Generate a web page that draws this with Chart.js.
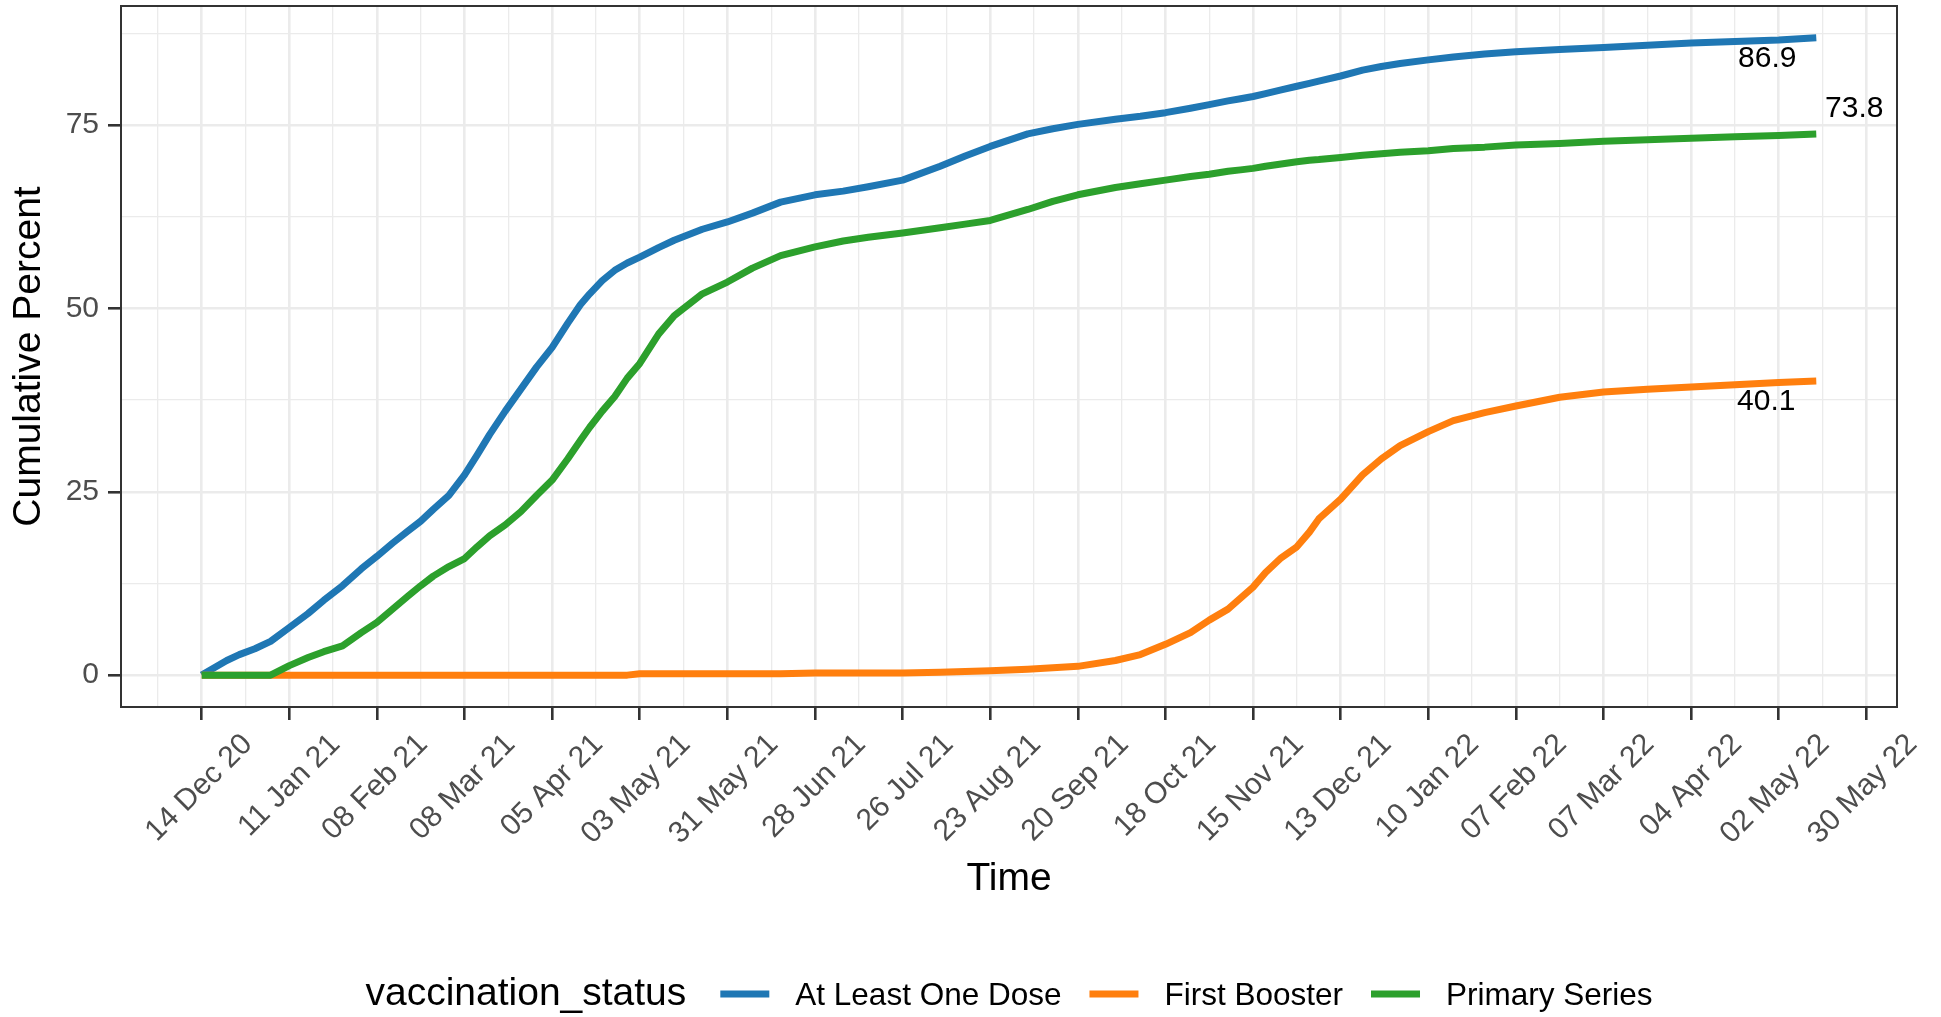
<!DOCTYPE html>
<html>
<head>
<meta charset="utf-8">
<title>Cumulative Percent</title>
<script src="https://cdn.jsdelivr.net/npm/chart.js@4.4.1/dist/chart.umd.min.js"></script>
<style>
  html, body { margin: 0; padding: 0; background: #fff; }
  #wrap { width: 1941px; height: 1017px; }
</style>
</head>
<body>
<div id="wrap"><canvas id="chart"></canvas></div>
<script>
// days counted from 14 Dec 2020
const days = [0, 4, 8, 12, 17, 22, 28, 34, 39, 45, 51, 56, 61, 66, 70, 74, 79, 84, 88, 92, 97, 102, 107, 112,
  117, 121, 124, 128, 132, 136, 140, 146, 151, 160, 168, 176, 185, 196, 205, 213, 224, 236, 244, 252, 264, 272,
  280, 292, 300, 308, 316, 322, 328, 332, 336, 340, 345, 350, 354, 357, 364, 371, 377, 383, 392, 400, 410, 420,
  434, 448, 462, 476, 490, 504, 516];

const atLeastOneDose = [0, 1.0, 2.0, 2.8, 3.6, 4.6, 6.5, 8.4, 10.2, 12.2, 14.5, 16.2, 18.0, 19.7, 21.0, 22.6, 24.5, 27.3,
  30.0, 32.8, 36.0, 39.0, 42.0, 44.7, 48.0, 50.5, 52.0, 53.8, 55.2, 56.2, 57.0, 58.3, 59.3, 60.8, 61.8, 63.0,
  64.5, 65.5, 66.0, 66.6, 67.5, 69.4, 70.8, 72.1, 73.8, 74.5, 75.1, 75.8, 76.2, 76.7, 77.3, 77.8, 78.3, 78.6,
  78.9, 79.3, 79.8, 80.3, 80.7, 81.0, 81.7, 82.5, 83.0, 83.4, 83.9, 84.3, 84.7, 85.0, 85.3, 85.6, 85.9, 86.2,
  86.4, 86.6, 86.9];

const firstBooster = [0, 0, 0, 0, 0, 0, 0, 0, 0, 0, 0, 0, 0, 0, 0, 0, 0, 0, 0, 0, 0, 0, 0, 0, 0, 0, 0, 0, 0, 0,
  0.2, 0.2, 0.2, 0.2, 0.2, 0.2, 0.2, 0.3, 0.3, 0.3, 0.3, 0.4, 0.5, 0.6, 0.8, 1.0, 1.2, 2.0, 2.8, 4.2, 5.8, 7.5,
  9.0, 10.5, 12.0, 14.0, 16.0, 17.5, 19.5, 21.3, 24.0, 27.3, 29.5, 31.3, 33.2, 34.7, 35.8, 36.7, 37.9, 38.6,
  39.0, 39.3, 39.6, 39.9, 40.1];

const primarySeries = [0, 0, 0, 0, 0, 0, 1.3, 2.4, 3.2, 4.0, 5.8, 7.2, 9.0, 10.8, 12.2, 13.5, 14.8, 15.9, 17.5,
  19.0, 20.5, 22.3, 24.5, 26.6, 29.5, 32.0, 33.8, 36.0, 38.0, 40.5, 42.5, 46.5, 49.0, 52.0, 53.6, 55.5, 57.2,
  58.4, 59.2, 59.7, 60.3, 61.0, 61.5, 62.0, 63.5, 64.6, 65.5, 66.5, 67.0, 67.5, 68.0, 68.3, 68.7, 68.9, 69.1,
  69.4, 69.7, 70.0, 70.2, 70.3, 70.6, 70.9, 71.1, 71.3, 71.5, 71.8, 72.0, 72.3, 72.5, 72.8, 73.0, 73.2, 73.4,
  73.6, 73.8];

const seriesNames = ['At Least One Dose', 'First Booster', 'Primary Series'];
const seriesColors = ['#1f77b4', '#ff7f0e', '#2ca02c'];

// one label every 28 days, starting at day 0
const xTickLabels = ['14 Dec 20', '11 Jan 21', '08 Feb 21', '08 Mar 21', '05 Apr 21', '03 May 21', '31 May 21',
  '28 Jun 21', '26 Jul 21', '23 Aug 21', '20 Sep 21', '18 Oct 21', '15 Nov 21', '13 Dec 21', '10 Jan 22',
  '07 Feb 22', '07 Mar 22', '04 Apr 22', '02 May 22', '30 May 22'];
const yTickValues = [0, 25, 50, 75];
const legendTitle = 'vaccination_status';

const FONT = '"Liberation Sans", Arial, Helvetica, sans-serif';
Chart.defaults.font.family = FONT;

// ggplot-like 5% expansion
const xSpan = days[days.length - 1] - days[0];
const xMin = days[0] - 0.05 * xSpan;
const xMax = days[days.length - 1] + 0.05 * xSpan;
const yTop = Math.max(...atLeastOneDose, ...firstBooster, ...primarySeries);
const yMin = -0.05 * yTop;
const yMax = yTop * 1.05;

const toPoints = (vals) => days.map((d, i) => ({ x: d, y: vals[i] }));
const seriesValues = [atLeastOneDose, firstBooster, primarySeries];

// label position relative to the last point of each line
const endLabelShift = [[-49, 21], [-50, 21], [38, -25]];

const isMajorX = (v) => v % 28 === 0;
const isMajorY = (v) => v % 25 === 0;

const panelBorder = {
  id: 'panelBorder',
  afterDraw(chart) {
    const { ctx, chartArea: a } = chart;
    ctx.save();
    ctx.strokeStyle = '#333333';
    ctx.lineWidth = 2;
    ctx.strokeRect(a.left, a.top, a.right - a.left, a.bottom - a.top);
    ctx.restore();
  }
};

const endLabels = {
  id: 'endLabels',
  afterDatasetsDraw(chart) {
    const ctx = chart.ctx;
    ctx.save();
    ctx.font = '30px ' + FONT;
    ctx.fillStyle = '#000';
    ctx.textAlign = 'center';
    ctx.textBaseline = 'middle';
    chart.data.datasets.forEach((ds, i) => {
      const pts = chart.getDatasetMeta(i).data;
      const last = pts[pts.length - 1];
      const v = ds.data[ds.data.length - 1].y;
      ctx.fillText(v.toFixed(1), last.x + endLabelShift[i][0], last.y + endLabelShift[i][1]);
    });
    ctx.restore();
  }
};

const bottomLegend = {
  id: 'bottomLegend',
  afterDraw(chart) {
    const { ctx, chartArea: a } = chart;
    const baseY = 1005, keyY = 994;
    const keyLen = 49, keyGap = 26, itemGap = 28, titleGap = 34;
    ctx.save();
    ctx.fillStyle = '#000';
    ctx.textBaseline = 'alphabetic';
    ctx.font = '39px ' + FONT;
    const titleW = ctx.measureText(legendTitle).width;
    ctx.font = '31.5px ' + FONT;
    const items = chart.data.datasets.map((ds) => ({ label: ds.label, color: ds.borderColor, w: ctx.measureText(ds.label).width }));
    let total = titleW;
    items.forEach((it, i) => { total += (i === 0 ? titleGap : itemGap) + keyLen + keyGap + it.w; });
    let x = (a.left + a.right) / 2 - total / 2;
    ctx.font = '39px ' + FONT;
    ctx.fillText(legendTitle, x, baseY);
    x += titleW;
    ctx.font = '31.5px ' + FONT;
    items.forEach((it, i) => {
      x += (i === 0 ? titleGap : itemGap);
      ctx.strokeStyle = it.color;
      ctx.lineWidth = 7;
      ctx.beginPath();
      ctx.moveTo(x, keyY);
      ctx.lineTo(x + keyLen, keyY);
      ctx.stroke();
      x += keyLen + keyGap;
      ctx.fillText(it.label, x, baseY);
      x += it.w;
    });
    ctx.restore();
  }
};

new Chart(document.getElementById('chart'), {
  type: 'line',
  data: {
    datasets: seriesNames.map((name, i) => ({
      label: name,
      data: toPoints(seriesValues[i]),
      borderColor: seriesColors[i],
      backgroundColor: seriesColors[i],
      borderWidth: 7,
      pointRadius: 0,
      tension: 0,
      borderJoinStyle: 'round',
      borderCapStyle: 'butt',
      order: 3 - i
    }))
  },
  options: {
    responsive: true,
    maintainAspectRatio: false,
    animation: false,
    layout: { padding: { left: 6, right: 44, top: 6, bottom: 114 } },
    plugins: { legend: { display: false }, tooltip: { enabled: false } },
    scales: {
      x: {
        type: 'linear',
        min: xMin,
        max: xMax,
        afterBuildTicks: (scale) => {
          const t = [];
          for (let v = -14; v <= scale.max; v += 14) if (v >= scale.min) t.push({ value: v });
          scale.ticks = t;
        },
        afterFit: (scale) => { scale.height = 196; scale.paddingLeft = 0; scale.paddingRight = 0; },
        border: { display: false },
        grid: {
          color: '#ebebeb',
          lineWidth: (c) => (c.tick && isMajorX(c.tick.value) ? 2.6 : 1.3),
          tickColor: (c) => (c.tick && isMajorX(c.tick.value) ? '#333333' : 'rgba(0,0,0,0)'),
          tickWidth: 2.6,
          tickLength: 13
        },
        ticks: {
          autoSkip: false,
          maxRotation: 45,
          minRotation: 45,
          padding: 7,
          labelOffset: 46,
          color: '#4d4d4d',
          font: { size: 30 },
          callback: (v) => (isMajorX(v) ? xTickLabels[v / 28] : '')
        },
        title: { display: true, text: 'Time', color: '#000', font: { size: 39 }, padding: 0 }
      },
      y: {
        type: 'linear',
        min: yMin,
        max: yMax,
        afterBuildTicks: (scale) => {
          const t = [];
          for (let v = 0; v <= scale.max; v += 12.5) t.push({ value: v });
          scale.ticks = t;
        },
        afterFit: (scale) => { scale.width = 115; scale.paddingTop = 0; scale.paddingBottom = 0; },
        border: { display: false },
        grid: {
          color: '#ebebeb',
          lineWidth: (c) => (c.tick && isMajorY(c.tick.value) ? 2.6 : 1.3),
          tickColor: (c) => (c.tick && isMajorY(c.tick.value) ? '#333333' : 'rgba(0,0,0,0)'),
          tickWidth: 2.6,
          tickLength: 13
        },
        ticks: {
          padding: 9,
          color: '#4d4d4d',
          font: { size: 30 },
          callback: (v) => (yTickValues.includes(v) ? String(v) : '')
        },
        title: { display: true, text: 'Cumulative Percent', color: '#000', font: { size: 39 }, padding: 0 }
      }
    }
  },
  plugins: [panelBorder, endLabels, bottomLegend]
});
</script>
</body>
</html>
